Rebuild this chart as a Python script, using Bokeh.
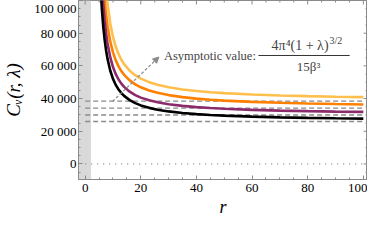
from bokeh.plotting import figure
from bokeh.models import (Range1d, SingleIntervalTicker, LinearAxis, Label, Arrow,
                          NormalHead, BoxAnnotation)
from bokeh.embed import file_html
from bokeh.resources import INLINE

# ---- data ----
r = [5.5, 6, 6.5, 7, 7.5, 8, 9, 10, 11, 12, 13, 14, 16, 18, 20, 23, 26, 30, 35,
     40, 45, 50, 60, 70, 80, 90, 100]
cv_lambda_0 = [109180, 94750, 84070, 75950, 69620, 64600, 57200, 52080, 48360, 45550,
               43370, 41640, 39040, 37200, 35830, 34320, 33220, 32150, 31200, 30500,
               29970, 29560, 28940, 28510, 28190, 27940, 27740]
cv_lambda_01 = [128350, 110700, 97690, 87840, 80210, 74180, 65340, 59280, 54920, 51660,
                49140, 47150, 44190, 42120, 40590, 38920, 37720, 36550, 35520, 34780,
                34210, 33770, 33110, 32650, 32310, 32050, 31840]
cv_lambda_02 = [144350, 125070, 110820, 99990, 91580, 84900, 75080, 68290, 63380, 59680,
                56810, 54520, 51120, 48710, 46910, 44940, 43520, 42130, 40890, 39990,
                39310, 38770, 37980, 37420, 37000, 36680, 36420]
cv_lambda_03 = [175130, 150030, 131600, 117670, 106920, 98450, 86110, 77690, 71660, 67180,
                63750, 61030, 57050, 54280, 52240, 50040, 48460, 46940, 45600, 44640,
                43910, 43340, 42510, 41920, 41480, 41140, 40880]
asymptotes = [25976, 29968, 34146, 38502]
asym_r = [0, 100]
zero_r = [0, 100]
zero_v = [0, 0]
excluded_r = 2.1
y_ticks = [0, 20000, 40000, 60000, 80000, 100000]
y_tick_labels = ["0", "20 000", "40 000", "60 000", "80 000", "100 000"]

curves = [cv_lambda_03, cv_lambda_02, cv_lambda_01, cv_lambda_0]
curve_colors = ["#ffbf4d", "#ff8000", "#8c2b6b", "#000000"]

SERIF = "Liberation Serif"
GRAY = "#8a8a8a"
X_LO, X_HI = -2.4, 101.5
Y_LO, Y_HI = -9500, 100000
FRAME_H = 178.7
FRAME_W = 291.0

p = figure(width=367, height=226, x_range=Range1d(X_LO, X_HI),
           y_range=Range1d(Y_LO, Y_HI), output_backend="svg",
           toolbar_location=None, min_border_left=76, min_border_right=0,
           min_border_top=0, min_border_bottom=47, x_axis_type=None, y_axis_type=None,
           margin=0)
p.styles = {"margin-bottom": "-8px", "margin-right": "-8px"}
p.grid.visible = False
p.outline_line_color = GRAY
p.background_fill_color = "white"
p.border_fill_color = "white"

def make_axis(interval, overrides=None):
    ax = LinearAxis(ticker=SingleIntervalTicker(interval=interval, num_minor_ticks=4))
    ax.axis_line_color = GRAY
    ax.major_tick_line_color = GRAY
    ax.minor_tick_line_color = GRAY
    ax.major_tick_in = 4
    ax.major_tick_out = 0
    ax.minor_tick_in = 2
    ax.minor_tick_out = 0
    ax.major_label_text_font = SERIF
    ax.major_label_text_font_size = "13px"
    ax.major_label_text_color = "black"
    ax.axis_label_text_font = SERIF
    ax.axis_label_text_font_style = "italic"
    ax.axis_label_text_font_size = "19px"
    ax.axis_label_text_color = "black"
    if overrides:
        ax.major_label_overrides = overrides
    return ax

xb = make_axis(20)
xb.major_label_standoff = 4
xb.axis_label = "r"
xb.axis_label_standoff = 2
xb.axis_label_text_font_size = "18px"
p.add_layout(xb, "below")
yl = make_axis(20000, overrides={t: s for t, s in zip(y_ticks, y_tick_labels)})
yl.major_label_standoff = 2
yl.axis_label = "Cᵥ(r, λ)"
yl.axis_label_standoff = 7
p.add_layout(yl, "left")

# inward ticks on the top and right frame edges
x_major = list(range(0, 101, 20))
x_minor = [v for v in range(0, 101, 5) if v % 20]
y_major = list(range(0, 100001, 20000))
y_minor = [v for v in range(-5000, 100001, 5000) if v % 20000]
px_y = (Y_HI - Y_LO) / FRAME_H
px_x = (X_HI - X_LO) / FRAME_W
p.segment(x_major, [Y_HI] * len(x_major), x_major, [Y_HI - 4 * px_y] * len(x_major),
          line_color=GRAY, line_width=1)
p.segment(x_minor, [Y_HI] * len(x_minor), x_minor, [Y_HI - 2 * px_y] * len(x_minor),
          line_color=GRAY, line_width=1)
p.segment([X_HI] * len(y_major), y_major, [X_HI - 4 * px_x] * len(y_major), y_major,
          line_color=GRAY, line_width=1)
p.segment([X_HI] * len(y_minor), y_minor, [X_HI - 2 * px_x] * len(y_minor), y_minor,
          line_color=GRAY, line_width=1)

band = BoxAnnotation(right=excluded_r, fill_color="#d9d9d9", fill_alpha=1.0,
                     line_color=None, level="underlay")
p.add_layout(band)

p.line(zero_r, zero_v, line_color=GRAY, line_width=1.2, line_dash="1 5")
for a in asymptotes:
    p.line(asym_r, [a, a], line_color=GRAY, line_width=1.3, line_dash="5 3")

for vals, col in zip(curves, curve_colors):
    p.line(r, vals, line_color=col, line_width=2.6)

# annotation
arrow = Arrow(x_start=9.8, y_start=38200, x_end=26.5, y_end=65450,
              line_color=GRAY, line_width=1.2, line_dash="3 2",
              end=NormalHead(size=6, fill_color=GRAY, line_color=GRAY))
p.add_layout(arrow)

p.add_layout(Label(x=28.3, y=66240, text="Asymptotic value:", text_font=SERIF,
                   text_font_size="12.5px", text_align="left", text_baseline="middle"))
p.line([62.3, 95.1], [66360, 66360], line_color="black", line_width=0.8)
p.add_layout(Label(x=87.5, y=72420, text="4π⁴(1 + λ)", text_font=SERIF,
                   text_font_size="14px", text_align="right", text_baseline="middle"))
p.add_layout(Label(x=87.8, y=75800, text="3/2", text_font=SERIF,
                   text_font_size="10px", text_align="left", text_baseline="middle"))
p.add_layout(Label(x=80.3, y=59700, text="15β³", text_font=SERIF,
                   text_font_size="13px", text_align="center", text_baseline="middle"))

open("out.html", "w").write(file_html(p, INLINE))
